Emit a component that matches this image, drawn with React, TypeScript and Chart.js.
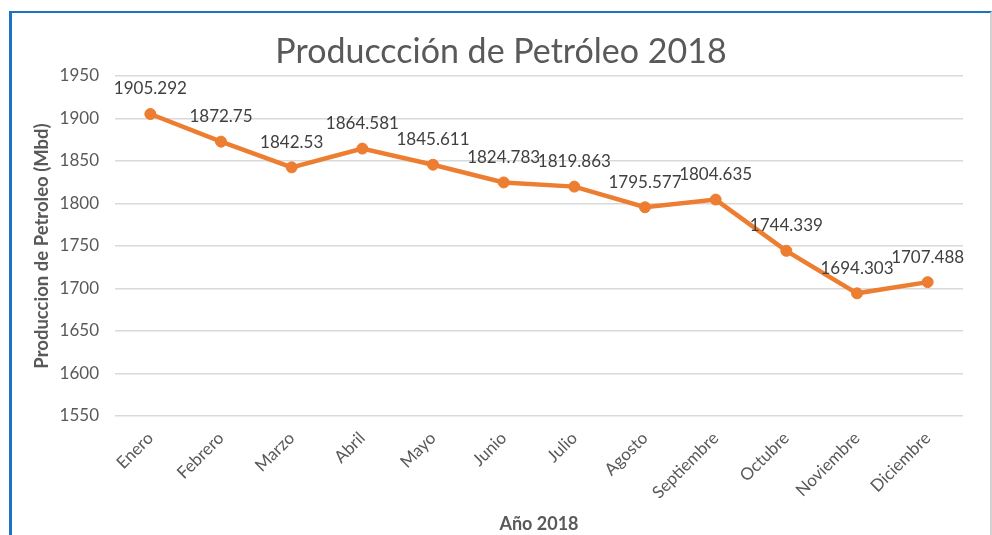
import React, { useEffect, useRef } from "react";
import { Chart, registerables } from "chart.js";

Chart.register(...registerables);

const months = [
  "Enero", "Febrero", "Marzo", "Abril", "Mayo", "Junio",
  "Julio", "Agosto", "Septiembre", "Octubre", "Noviembre", "Diciembre",
];
const production = [
  1905.292, 1872.75, 1842.53, 1864.581, 1845.611, 1824.783,
  1819.863, 1795.577, 1804.635, 1744.339, 1694.303, 1707.488,
];
const dataLabels = [
  "1905.292", "1872.75", "1842.53", "1864.581", "1845.611", "1824.783",
  "1819.863", "1795.577", "1804.635", "1744.339", "1694.303", "1707.488",
];
const chartTitle = "Produ" + "ccc" + "ión de Petróleo 2018";
const yTitle = "Produccion de Petroleo (Mbd)";
const xTitle = "Año 2018";
const yMin = 1550;
const yMax = 1950;
const yStep = 50;

const FONT = "Lato, 'Open Sans', sans-serif";
const TEXT = "#595959";
const ORANGE = "#ED7D31";

export default function App() {
  const ref = useRef<HTMLCanvasElement | null>(null);

  useEffect(() => {
    const canvas = ref.current;
    if (!canvas) return;

    const titlePlugin = {
      id: "customTitle",
      afterDraw(chart: any) {
        const ctx = chart.ctx;
        ctx.save();
        ctx.font = `34px ${FONT}`;
        ctx.fillStyle = TEXT;
        ctx.textAlign = "center";
        ctx.textBaseline = "middle";
        ctx.fillText(chartTitle, 501, 52);
        ctx.restore();
      },
    };

    const labelPlugin = {
      id: "pointLabels",
      afterDatasetsDraw(chart: any) {
        const ctx = chart.ctx;
        const meta = chart.getDatasetMeta(0);
        ctx.save();
        ctx.font = `17px ${FONT}`;
        ctx.fillStyle = "#404040";
        ctx.textAlign = "center";
        ctx.textBaseline = "middle";
        meta.data.forEach((pt: any, i: number) => {
          ctx.fillText(dataLabels[i], pt.x, pt.y - 25);
        });
        ctx.restore();
      },
    };

    const chart = new Chart(canvas, {
      type: "line",
      data: {
        labels: months,
        datasets: [
          {
            data: production,
            borderColor: ORANGE,
            backgroundColor: ORANGE,
            borderWidth: 4.5,
            pointRadius: 5.5,
            pointBorderWidth: 1,
            pointBackgroundColor: ORANGE,
            pointBorderColor: ORANGE,
            tension: 0,
            clip: false as any,
          },
        ],
      },
      options: {
        responsive: false,
        animation: false,
        layout: { padding: { top: 76, right: 29, left: 0, bottom: 0 } },
        plugins: {
          legend: { display: false },
          title: { display: false },
          tooltip: { enabled: false },
        },
        scales: {
          x: {
            offset: true,
            grid: { display: false, drawTicks: false },
            border: { display: false },
            ticks: {
              autoSkip: false,
              minRotation: 45,
              maxRotation: 45,
              padding: 12,
              color: TEXT,
              font: { family: FONT, size: 17 },
            },
            title: {
              display: true,
              text: xTitle,
              color: TEXT,
              font: { family: FONT, size: 18, weight: "bold" },
              padding: { top: 0, bottom: 0 },
            },
            afterFit(scale: any) {
              scale.height = 119;
            },
          },
          y: {
            min: yMin,
            max: yMax,
            ticks: {
              stepSize: yStep,
              padding: 16,
              color: TEXT,
              font: { family: FONT, size: 17 },
              callback: (v: any) => String(v),
            },
            grid: { color: "#d9d9d9", lineWidth: 1.5, drawTicks: false },
            border: { display: false },
            title: {
              display: true,
              text: yTitle,
              color: TEXT,
              font: { family: FONT, size: 18.5, weight: "bold" },
              padding: { top: 31, bottom: 0 },
            },
            afterFit(scale: any) {
              scale.width = 115;
            },
          },
        },
      },
      plugins: [titlePlugin, labelPlugin],
    });

    return () => chart.destroy();
  }, []);

  return (
    <div
      style={{
        position: "fixed",
        left: 0,
        top: 0,
        width: 992,
        height: 535,
        background: "#ffffff",
        overflow: "hidden",
      }}
    >
      <canvas ref={ref} width={992} height={535} style={{ position: "absolute", left: 0, top: 0 }} />
      <div
        style={{
          position: "absolute",
          left: 9,
          top: 11,
          width: 978,
          height: 600,
          borderLeft: "3px solid #1D72C4",
          borderTop: "2px solid #1D72C4",
          borderRight: "2px solid #d2d2d2",
          pointerEvents: "none",
        }}
      />
    </div>
  );
}
